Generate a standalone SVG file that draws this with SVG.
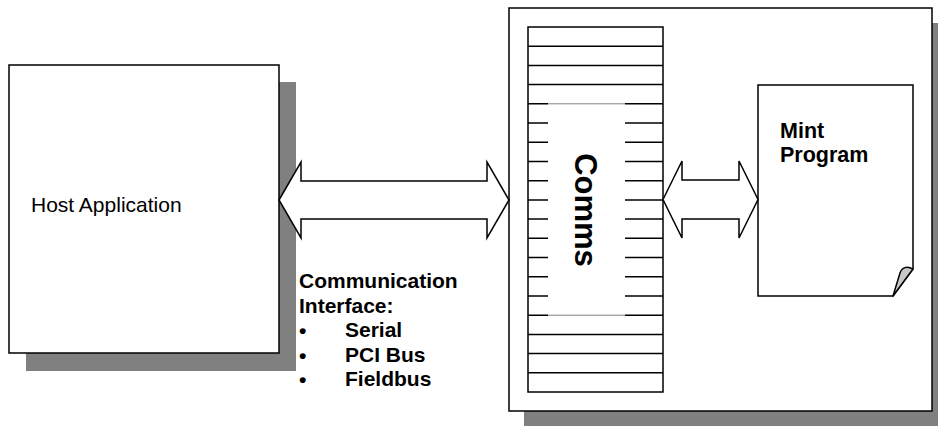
<svg xmlns="http://www.w3.org/2000/svg" width="938" height="426" viewBox="0 0 938 426">
  <style>
    .shadow { fill: #808080; stroke: none; }
    .box { fill: #ffffff; stroke: #000000; stroke-width: 1.5; }
    .rung { stroke: #000000; stroke-width: 1.5; }
    .arrow { fill: #ffffff; stroke: #000000; stroke-width: 1.5; stroke-linejoin: miter; }
    .label { font-family: "Liberation Sans", Arial, sans-serif; fill: #000000; }
    .bold { font-weight: bold; }
  </style>

  <rect width="938" height="426" fill="#ffffff"/>

  <!-- Host application block -->
  <g id="host">
    <rect class="shadow" x="26" y="82" width="270" height="289"/>
    <rect class="box" x="9" y="65" width="270" height="288"/>
    <text class="label" x="31" y="211.5" font-size="21">Host Application</text>
  </g>

  <!-- Controller block -->
  <g id="controller">
    <rect class="shadow" x="524" y="23" width="423" height="410"/>
    <rect class="box" x="509" y="8" width="423" height="403"/>
  </g>

  <!-- Comms buffer strip -->
  <g id="comms">
    <rect class="box" x="528" y="27" width="135" height="365"/>
    <g class="rung">
      <line x1="528" y1="46.2" x2="663" y2="46.2"/>
      <line x1="528" y1="65.4" x2="663" y2="65.4"/>
      <line x1="528" y1="84.6" x2="663" y2="84.6"/>
      <line x1="528" y1="103.8" x2="663" y2="103.8"/>
      <line x1="528" y1="123.1" x2="663" y2="123.1"/>
      <line x1="528" y1="142.3" x2="663" y2="142.3"/>
      <line x1="528" y1="161.5" x2="663" y2="161.5"/>
      <line x1="528" y1="180.7" x2="663" y2="180.7"/>
      <line x1="528" y1="199.9" x2="663" y2="199.9"/>
      <line x1="528" y1="219.1" x2="663" y2="219.1"/>
      <line x1="528" y1="238.3" x2="663" y2="238.3"/>
      <line x1="528" y1="257.5" x2="663" y2="257.5"/>
      <line x1="528" y1="276.7" x2="663" y2="276.7"/>
      <line x1="528" y1="295.9" x2="663" y2="295.9"/>
      <line x1="528" y1="315.2" x2="663" y2="315.2"/>
      <line x1="528" y1="334.4" x2="663" y2="334.4"/>
      <line x1="528" y1="353.6" x2="663" y2="353.6"/>
      <line x1="528" y1="372.8" x2="663" y2="372.8"/>
    </g>
    <rect x="548" y="103" width="77" height="213" fill="#ffffff"/>
    <line x1="548" y1="103.8" x2="625" y2="103.8" stroke="#808080" stroke-width="1"/>
    <line x1="548" y1="315.2" x2="625" y2="315.2" stroke="#808080" stroke-width="1"/>
    <text class="label bold" font-size="31" text-anchor="middle" transform="translate(575 210) rotate(90)">Comms</text>
  </g>

  <!-- Mint program document -->
  <g id="mint-program">
    <path class="box" d="M758,85 H913 V269 L893,296 H758 Z"/>
    <path d="M913,269 C907,266 902,267 900,273 L893,296 Z" fill="#c8c8c8" stroke="#000000" stroke-width="1.5" stroke-linejoin="round"/>
    <text class="label bold" x="780" y="138" font-size="21.5">Mint</text>
    <text class="label bold" x="780" y="162" font-size="21.5">Program</text>
  </g>

  <!-- Double-headed block arrows -->
  <g id="connectors">
    <path class="arrow" d="M279,200 L301,162 V181 H487 V162 L509,200 L487,238 V219 H301 V238 Z"/>
    <path class="arrow" d="M663,199.5 L682,161 V180 H739 V161 L758,199.5 L739,238 V219 H682 V238 Z"/>
  </g>

  <!-- Interface label -->
  <g id="interface-label" class="label bold" font-size="21">
    <text x="299" y="288">Communication</text>
    <text x="299" y="312.5">Interface:</text>
    <text x="299" y="338">•</text>
    <text x="345" y="337">Serial</text>
    <text x="299" y="362.5">•</text>
    <text x="345" y="361.5">PCI Bus</text>
    <text x="299" y="387">•</text>
    <text x="345" y="386">Fieldbus</text>
  </g>
</svg>
